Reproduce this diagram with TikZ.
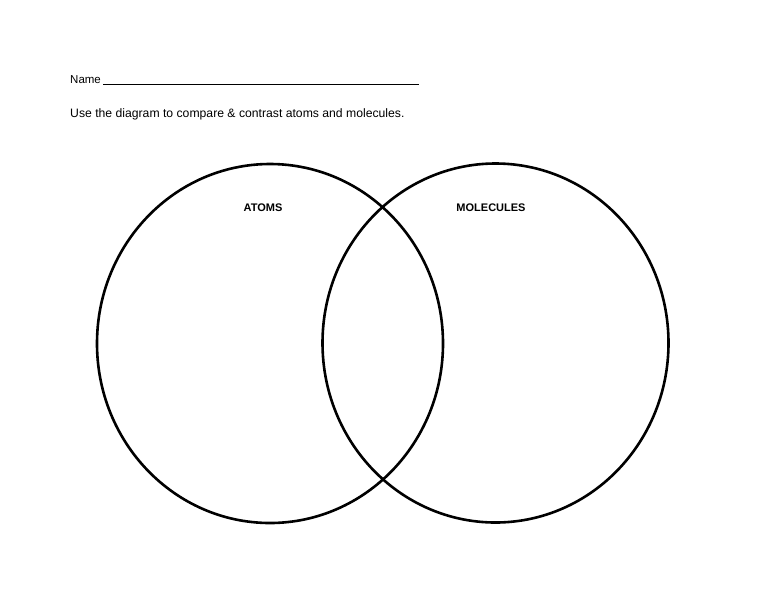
\documentclass[tikz,border=0pt]{standalone}
\usepackage{fontspec}
\setmainfont{Liberation Sans}
\usetikzlibrary{shapes.geometric}
\begin{document}
\begin{tikzpicture}[x=1pt,y=-1pt,
  set/.style={ellipse,draw=black,line width=2.6pt,inner sep=0pt,outer sep=0pt,
    minimum width=346pt,minimum height=359pt},
  lbl/.style={font=\fontsize{11}{13}\selectfont\bfseries,inner sep=0pt,anchor=base},
  txt/.style={font=\fontsize{11.5}{14}\selectfont,inner sep=0pt,anchor=base west}]
\useasboundingbox[fill=white] (0,0) rectangle (776,600);
\node[set] (atoms) at (270,343.5) {};
\node[set] (molecules) at (495.5,343) {};
\node[lbl] (atomslbl) at (263,211) {ATOMS};
\node[lbl] (mollbl) at (491,211) {MOLECULES};
\node[txt] (name) at (70,83) {Name};
\coordinate (ul1) at (103,84.5);
\coordinate (ul2) at (419,84.5);
\draw[line width=0.9pt] (ul1) -- (ul2);
\node[txt,font=\fontsize{12.2}{14}\selectfont] (instr) at (70,117) {Use the diagram to compare \& contrast atoms and molecules.};
\end{tikzpicture}
\end{document}
